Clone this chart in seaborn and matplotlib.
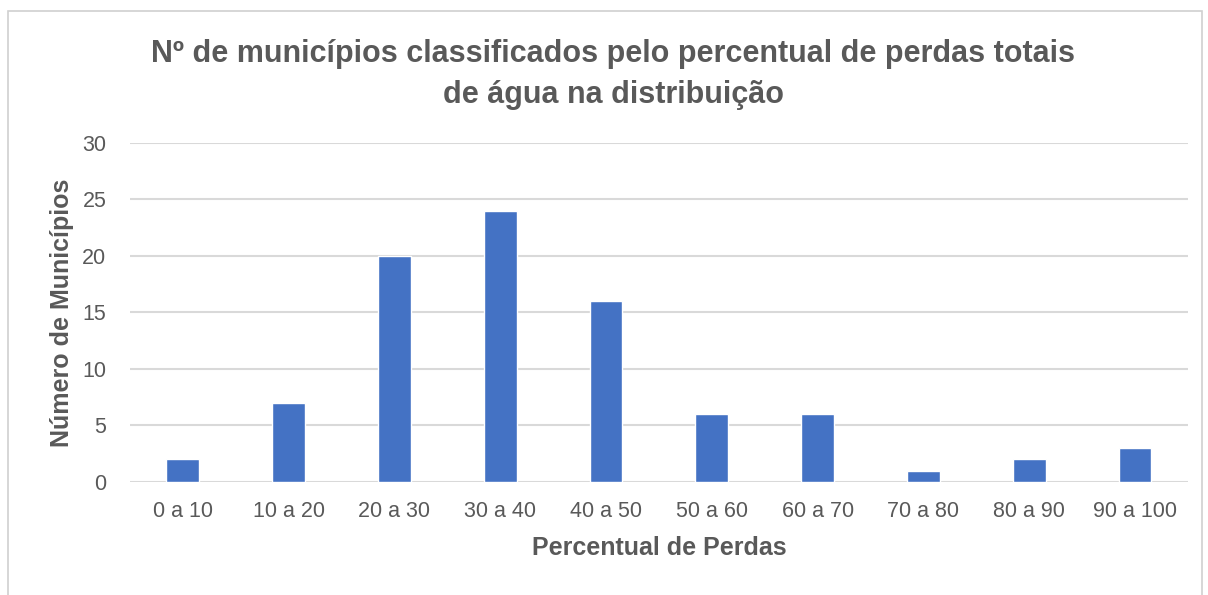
import matplotlib
matplotlib.use("Agg")
import matplotlib.pyplot as plt
import seaborn as sns
import pandas as pd
from matplotlib.patches import Rectangle

# Faixas de perdas e numero de municipios
faixas = ["0 a 10", "10 a 20", "20 a 30", "30 a 40", "40 a 50",
          "50 a 60", "60 a 70", "70 a 80", "80 a 90", "90 a 100"]
municipios = [2, 7, 20, 24, 16, 6, 6, 1, 2, 3]

df = pd.DataFrame({"Faixa": faixas, "Municipios": municipios})

sns.set_style("white")
plt.rcParams["font.family"] = ["Liberation Sans", "DejaVu Sans"]

text_color = "#595959"
grid_color = "#d9d9d9"

fig = plt.figure(figsize=(12.08, 5.95), dpi=100)
ax = fig.add_axes([0.1076, 0.190, 0.8758, 0.5697])

sns.barplot(data=df, x="Faixa", y="Municipios", color="#4472C4",
            width=0.31, saturation=1, ax=ax, zorder=3)

ax.set_ylim(0, 30)
ax.set_yticks(range(0, 31, 5))
ax.set_xlim(-0.5, len(faixas) - 0.5)
ax.yaxis.grid(True, color=grid_color, linewidth=1.5, zorder=0)
ax.set_axisbelow(True)
for s in ax.spines.values():
    s.set_visible(False)
ax.tick_params(axis="both", length=0, labelsize=15.5, colors=text_color)
ax.tick_params(axis="x", pad=14)
ax.tick_params(axis="y", pad=17)

ax.set_xlabel("Percentual de Perdas", fontsize=18, fontweight="bold",
              color=text_color, labelpad=10)
ax.set_ylabel("Número de Municípios", fontsize=18, fontweight="bold",
              color=text_color, labelpad=6)

fig.text(0.5075, 0.875, "Nº de municípios classificados pelo percentual de perdas totais\nde água na distribuição",
         ha="center", va="center", fontsize=22, fontweight="bold",
         color=text_color, linespacing=1.45)

# moldura cinza do grafico
fig.patches.append(Rectangle((8 / 1208, -0.01), 1194 / 1208, 1 - 11 / 595 + 0.01,
                             transform=fig.transFigure, fill=False,
                             edgecolor="#d0d0d0", linewidth=1.2))

fig.savefig("out.png", dpi=100)
